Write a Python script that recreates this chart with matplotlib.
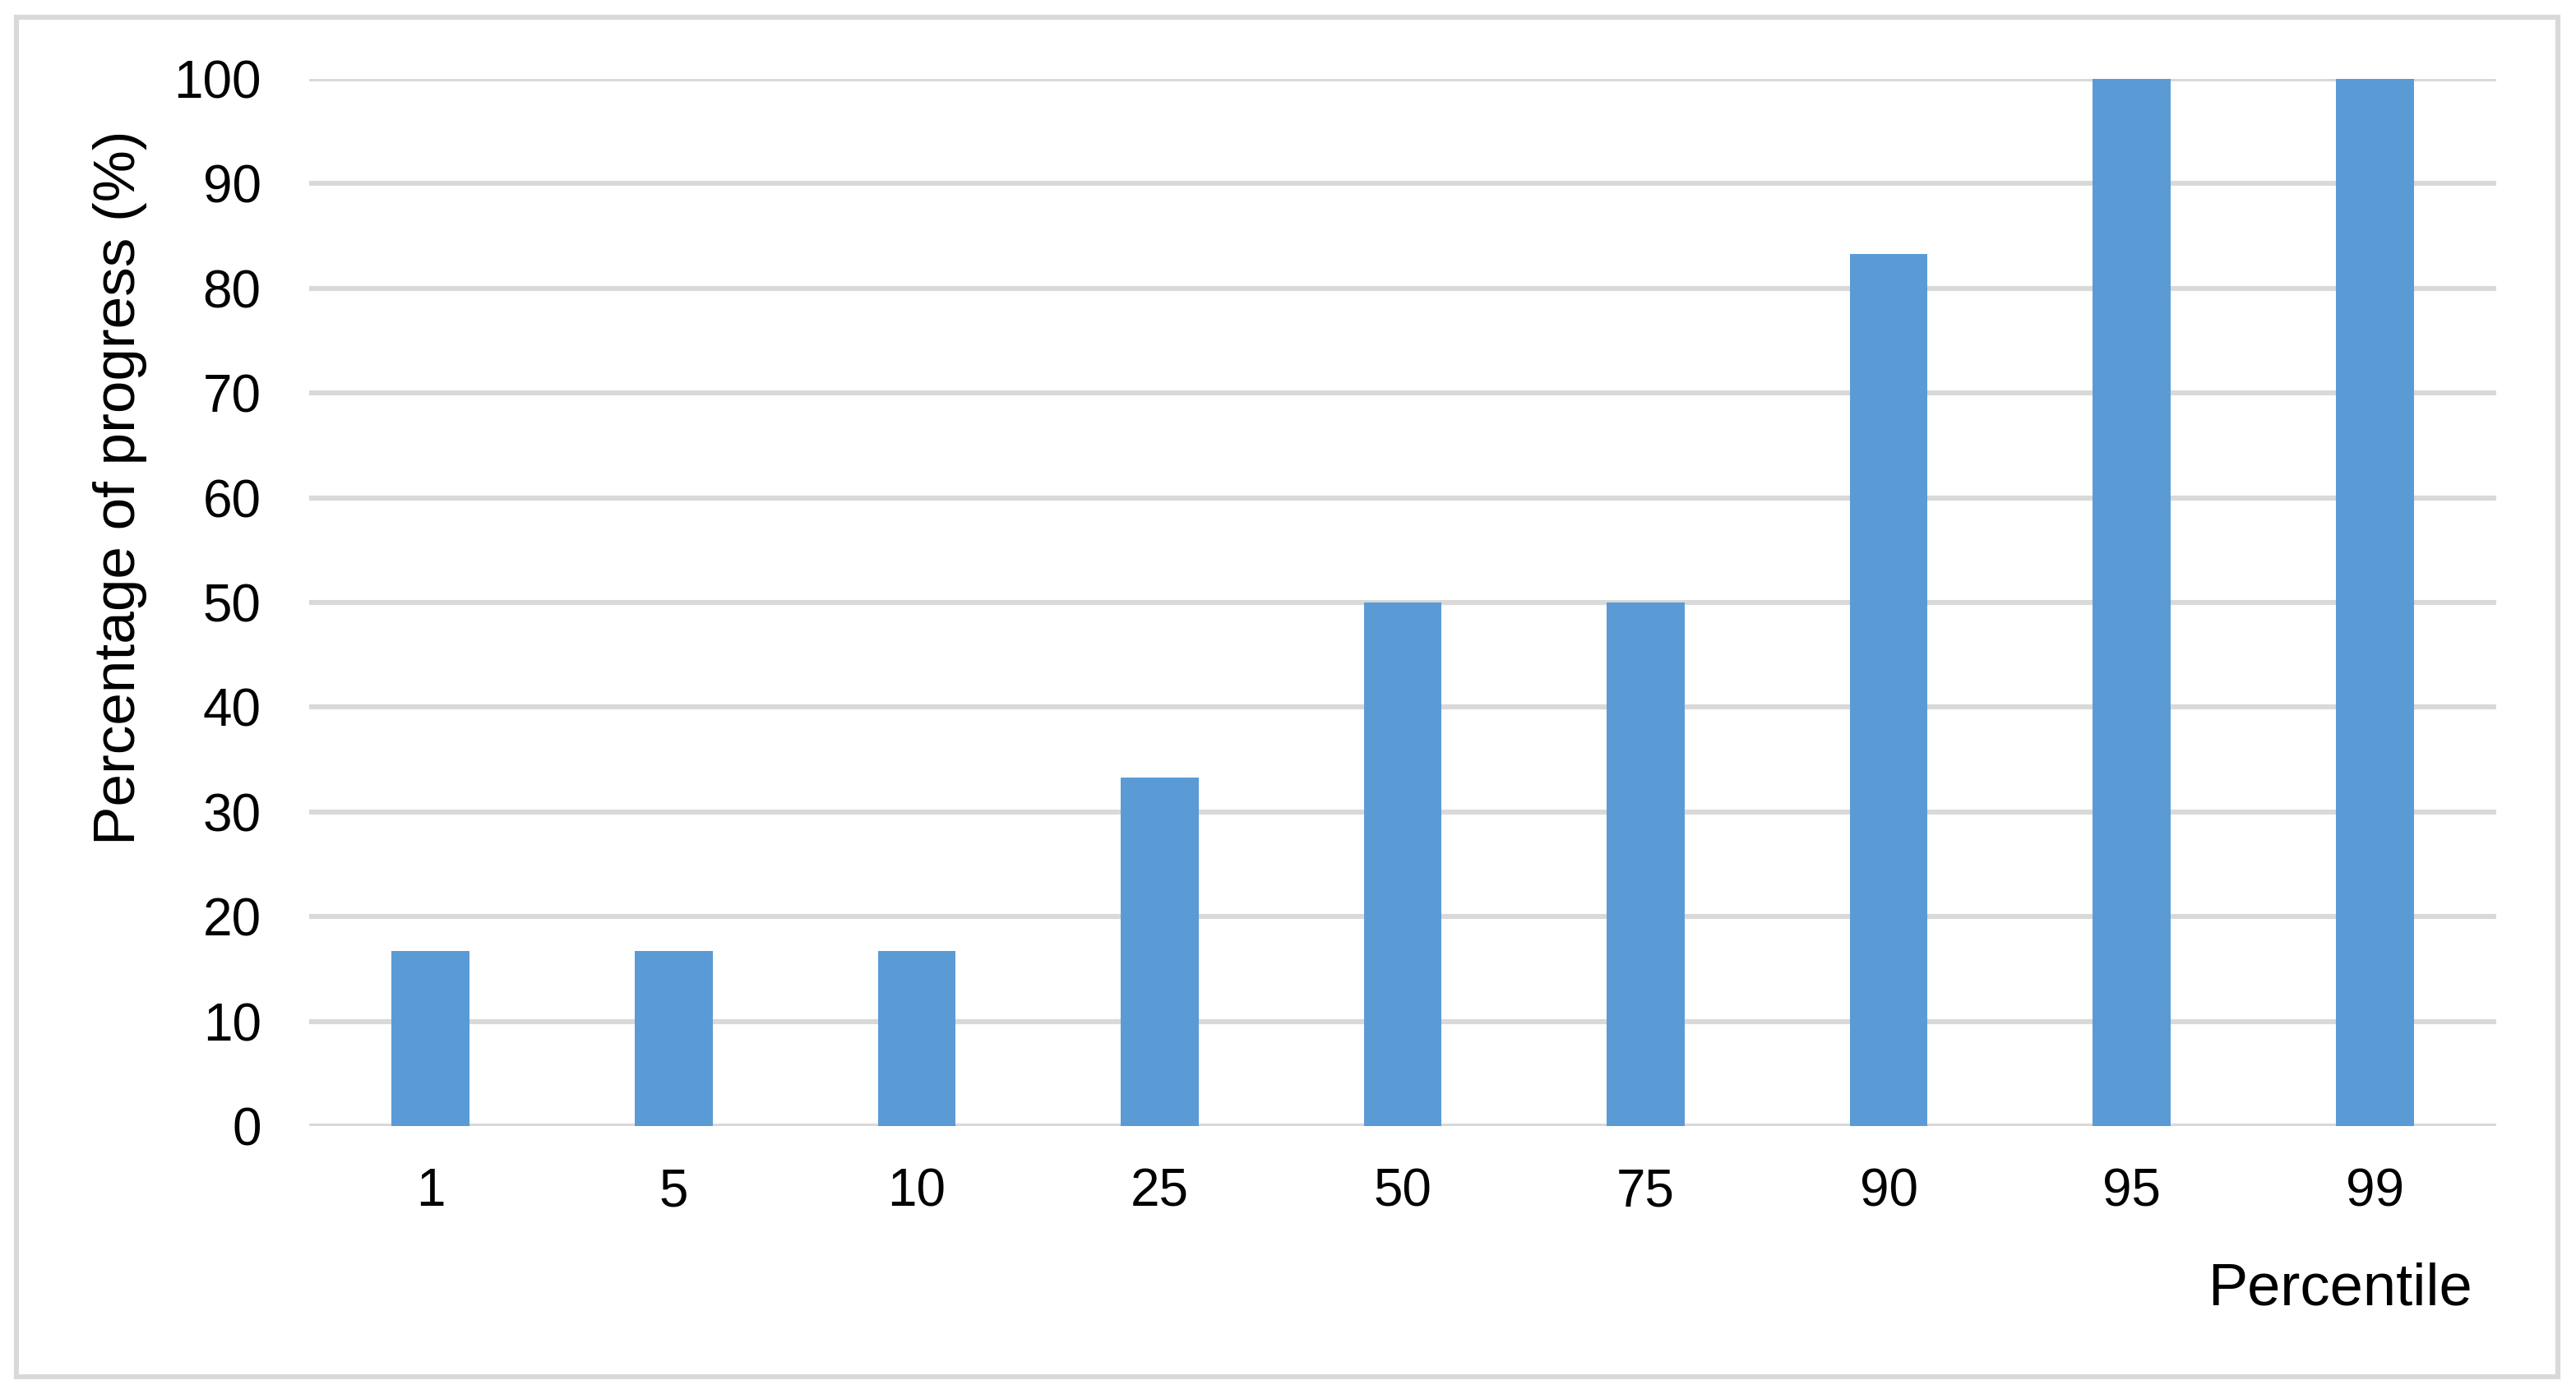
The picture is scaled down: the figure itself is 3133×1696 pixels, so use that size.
import matplotlib.pyplot as plt
from matplotlib.patches import Rectangle

percentiles = ['1', '5', '10', '25', '50', '75', '90', '95', '99']
progress = [16.7, 16.7, 16.7, 33.3, 50, 50, 83.3, 100, 100]

plt.rcParams['font.family'] = ['Liberation Sans', 'DejaVu Sans']

W, H, dpi = 3133, 1696, 200
fig = plt.figure(figsize=(W / dpi, H / dpi), dpi=dpi)

# outer light-grey frame
fig.patches.append(Rectangle((20 / W, 21 / H), (3111 - 20) / W, (1675 - 21) / H,
                             transform=fig.transFigure, fill=False,
                             edgecolor='#d9d9d9', linewidth=2.2))

ax = fig.add_axes([376 / W, 1 - 1370 / H, (3036 - 376) / W, (1370 - 96) / H])
x = range(len(percentiles))
ax.bar(x, progress, width=0.32, color='#5b9bd5', zorder=3)

ax.set_xlim(-0.5, len(percentiles) - 0.5)
ax.set_ylim(0, 100)
ax.set_yticks(range(0, 101, 10))
ax.set_xticks(list(x))
ax.set_xticklabels(percentiles)
ax.yaxis.grid(True, color='#d9d9d9', linewidth=2.2, zorder=0)
ax.set_axisbelow(True)
for s in ax.spines.values():
    s.set_visible(False)
ax.tick_params(length=0, labelsize=23, colors='black')
ax.tick_params(axis='y', pad=21)
ax.tick_params(axis='x', pad=18)

ax.set_ylabel('Percentage of progress (%)', fontsize=25.6)
ax.yaxis.set_label_coords(-0.074, 0.61)
ax.set_xlabel('Percentile', fontsize=26, ha='right')
ax.xaxis.set_label_coords(0.989, -0.130)

fig.savefig('out.png', dpi=dpi)
